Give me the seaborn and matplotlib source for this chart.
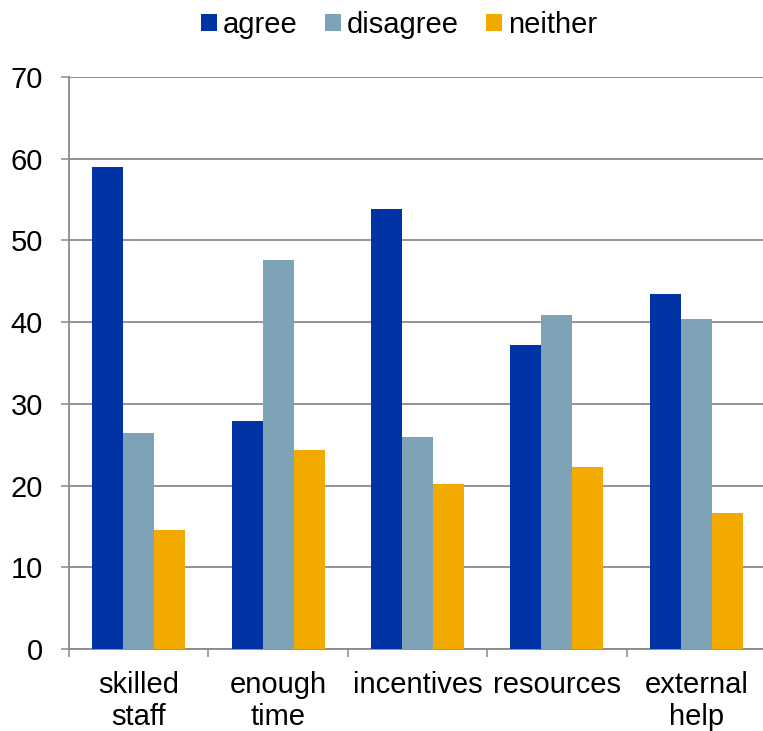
import matplotlib
matplotlib.use("Agg")
import matplotlib.pyplot as plt
import pandas as pd
import seaborn as sns
from matplotlib.ticker import FixedLocator

# survey answers per factor (percent)
categories = ['skilled\nstaff', 'enough\ntime', 'incentives', 'resources', 'external\nhelp']
answers = ['agree', 'disagree', 'neither']
agree = [59.0, 27.9, 53.9, 37.2, 43.5]
disagree = [26.4, 47.6, 25.9, 40.9, 40.4]
neither = [14.6, 24.4, 20.2, 22.3, 16.6]
colors = ['#0033A6', '#7FA3B6', '#F2AA00']

sns.set_style('white')
plt.rcParams['font.family'] = ['Liberation Sans', 'DejaVu Sans']
plt.rcParams['text.color'] = 'black'
plt.rcParams['xtick.labelcolor'] = 'black'
plt.rcParams['ytick.labelcolor'] = 'black'

# long-form table for seaborn
rows = []
for ans, vals in zip(answers, [agree, disagree, neither]):
    for cat, v in zip(categories, vals):
        rows.append({'category': cat, 'answer': ans, 'value': v})
df = pd.DataFrame(rows)

fig = plt.figure(figsize=(7.63, 7.31), dpi=100)
ax = fig.add_axes([69 / 763, 1 - 649 / 731, 697 / 763, (649 - 77) / 731])

sns.barplot(data=df, x='category', y='value', hue='answer', palette=colors,
            width=0.667, gap=0, saturation=1, linewidth=0, ax=ax, zorder=3)

ax.set_ylim(0, 70)
ax.set_xlim(-0.5, 4.5)
ax.set_yticks(range(0, 71, 10))
ax.yaxis.grid(True, color='#8a8a8a', linewidth=1.3, zorder=0)
ax.set_axisbelow(True)
ax.set_xlabel('')
ax.set_ylabel('')

for side in ['top', 'right']:
    ax.spines[side].set_visible(False)
for side in ['left', 'bottom']:
    ax.spines[side].set_color('#8a8a8a')
    ax.spines[side].set_linewidth(1.3)

# category labels without marks, tick marks at the boundaries
ax.tick_params(axis='x', which='major', bottom=True, length=0, labelsize=21, pad=16)
ax.xaxis.set_minor_locator(FixedLocator([i - 0.5 for i in range(6)]))
ax.tick_params(axis='x', which='minor', bottom=True, length=5.8, width=1.1,
               color='#8a8a8a', direction='out')
ax.tick_params(axis='y', left=True, length=5.8, width=1.1, color='#8a8a8a',
               direction='out', labelsize=21, pad=13)
for lab in ax.get_xticklabels():
    lab.set_linespacing(1.15)

ax.get_legend().remove()
handles, labels = ax.get_legend_handles_labels()
fig.legend(handles, labels, loc='center', bbox_to_anchor=(399 / 763, 1 - 25 / 731),
           ncol=3, frameon=False, fontsize=21, handlelength=0.55, handleheight=0.55,
           handletextpad=0.2, columnspacing=0.95, borderaxespad=0)

plt.savefig('out.png', dpi=100)
